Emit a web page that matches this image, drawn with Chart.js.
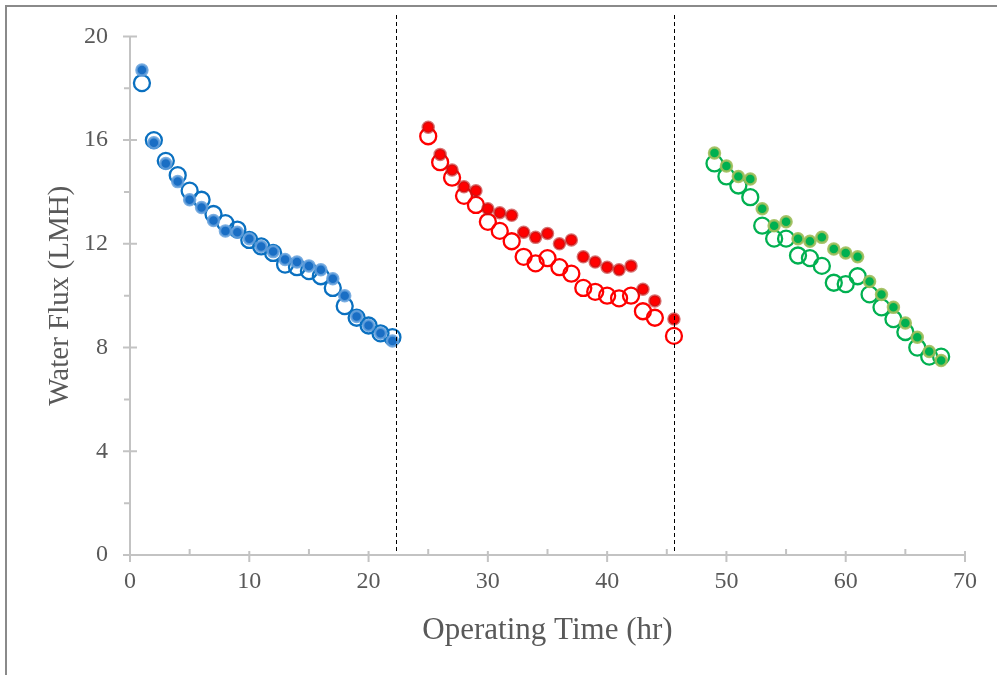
<!DOCTYPE html>
<html>
<head>
<meta charset="utf-8">
<script src="https://cdn.jsdelivr.net/npm/chart.js@4.4.1/dist/chart.umd.min.js"></script>
<style>
  html, body { margin: 0; padding: 0; background: #fff; }
  canvas { display: block; }
</style>
</head>
<body>
<canvas id="flux-chart" width="997" height="675"></canvas>
<script>
// cycle 1 (blue)
const blueTime = [1, 2, 3, 4, 5, 6, 7, 8, 9, 10, 11, 12, 13, 14, 15, 16, 17, 18, 19, 20, 21, 22];
const blueFilled = [18.7, 15.9, 15.1, 14.4, 13.7, 13.4, 12.9, 12.5, 12.45, 12.2, 11.9, 11.7, 11.4, 11.3, 11.15, 11.0, 10.65, 10.0, 9.2, 8.85, 8.55, 8.25];
const blueOpen = [18.2, 16.0, 15.2, 14.65, 14.05, 13.7, 13.15, 12.8, 12.55, 12.15, 11.9, 11.65, 11.2, 11.1, 10.95, 10.75, 10.3, 9.6, 9.15, 8.85, 8.55, 8.4];

// cycle 2 (red)
const redTime = [25, 26, 27, 28, 29, 30, 31, 32, 33, 34, 35, 36, 37, 38, 39, 40, 41, 42, 43, 44, 45.6];
const redFilled = [16.5, 15.45, 14.85, 14.2, 14.05, 13.35, 13.2, 13.1, 12.45, 12.25, 12.4, 12.0, 12.15, 11.5, 11.3, 11.1, 11.0, 11.15, 10.25, 9.8, 9.1];
const redOpen = [16.15, 15.15, 14.55, 13.85, 13.5, 12.85, 12.5, 12.1, 11.5, 11.25, 11.45, 11.1, 10.85, 10.3, 10.15, 10.0, 9.9, 10.0, 9.4, 9.15, 8.45];

// cycle 3 (green)
const greenTime = [49, 50, 51, 52, 53, 54, 55, 56, 57, 58, 59, 60, 61, 62, 63, 64, 65, 66, 67, 68];
const greenFilled = [15.5, 15.0, 14.6, 14.5, 13.35, 12.7, 12.85, 12.2, 12.1, 12.25, 11.8, 11.65, 11.5, 10.55, 10.05, 9.55, 8.95, 8.4, 7.85, 7.5];
const greenOpen = [15.1, 14.6, 14.25, 13.8, 12.7, 12.2, 12.2, 11.55, 11.45, 11.15, 10.5, 10.45, 10.75, 10.05, 9.55, 9.1, 8.6, 8.0, 7.65, 7.65];

// cycle boundaries (hr)
const dividerTimes = [22.3, 45.6];

const xTicks = [0, 10, 20, 30, 40, 50, 60, 70];
const xMinorTicks = [5, 15, 25, 35, 45, 55, 65];
const yTicks = [0, 4, 8, 12, 16, 20];
const yMinorTicks = [2, 6, 10, 14, 18];

function toPoints(xs, ys) {
  return xs.map(function (x, i) { return { x: x, y: ys[i] }; });
}

function filledSet(xs, ys, fill, edge) {
  return {
    data: toPoints(xs, ys),
    backgroundColor: fill,
    borderColor: edge,
    borderWidth: 2.5,
    pointRadius: 5.5,
    pointHoverRadius: 5.5,
    order: 0
  };
}

function openSet(xs, ys, color) {
  return {
    data: toPoints(xs, ys),
    backgroundColor: "rgba(0,0,0,0)",
    borderColor: color,
    borderWidth: 2.3,
    pointRadius: 8,
    pointHoverRadius: 8,
    order: 1
  };
}

const axisColor = "#c3c3c3";
const textColor = "#595959";
const serif = "'Liberation Serif', 'Times New Roman', serif";

const axesPlugin = {
  id: "excelAxes",
  beforeDraw(chart) {
    const ctx = chart.ctx;
    ctx.save();
    ctx.strokeStyle = "#8a8a8a";
    ctx.lineWidth = 2;
    ctx.beginPath();
    ctx.moveTo(6, 675);
    ctx.lineTo(6, 6);
    ctx.lineTo(997, 6);
    ctx.stroke();
    ctx.restore();
  },
  beforeDatasetsDraw(chart) {
    const ctx = chart.ctx;
    const xs = chart.scales.x;
    const ys = chart.scales.y;
    const x0 = xs.getPixelForValue(0);
    const y0 = ys.getPixelForValue(0);
    ctx.save();
    ctx.strokeStyle = axisColor;
    ctx.lineWidth = 2;
    ctx.beginPath();
    ctx.moveTo(x0, ys.getPixelForValue(20));
    ctx.lineTo(x0, y0);
    ctx.lineTo(xs.getPixelForValue(70), y0);
    xTicks.forEach(function (v) {
      const px = xs.getPixelForValue(v);
      ctx.moveTo(px, y0 - 4);
      ctx.lineTo(px, y0 + 7);
    });
    xMinorTicks.forEach(function (v) {
      const px = xs.getPixelForValue(v);
      ctx.moveTo(px, y0 - 6);
      ctx.lineTo(px, y0);
    });
    yTicks.forEach(function (v) {
      const py = ys.getPixelForValue(v);
      ctx.moveTo(x0 - 7, py);
      ctx.lineTo(x0 + 7, py);
    });
    yMinorTicks.forEach(function (v) {
      const py = ys.getPixelForValue(v);
      ctx.moveTo(x0 - 6, py);
      ctx.lineTo(x0, py);
    });
    ctx.stroke();
    ctx.restore();
  },
  afterDatasetsDraw(chart) {
    const ctx = chart.ctx;
    const xs = chart.scales.x;
    ctx.save();
    ctx.strokeStyle = "#000";
    ctx.lineWidth = 1;
    ctx.setLineDash([4, 3]);
    dividerTimes.forEach(function (t) {
      const px = Math.round(xs.getPixelForValue(t)) + 0.5;
      ctx.beginPath();
      ctx.moveTo(px, 15);
      ctx.lineTo(px, 552);
      ctx.stroke();
    });
    ctx.restore();
  }
};

const ctx = document.getElementById("flux-chart").getContext("2d");
new Chart(ctx, {
  type: "scatter",
  data: {
    datasets: [
      filledSet(blueTime, blueFilled, "#1a6ec4", "rgba(100,160,220,0.85)"),
      filledSet(redTime, redFilled, "#ff0000", "rgba(190,20,20,0.6)"),
      filledSet(greenTime, greenFilled, "#00b050", "rgba(160,190,90,0.9)"),
      openSet(blueTime, blueOpen, "#0a70c0"),
      openSet(redTime, redOpen, "#ff0000"),
      openSet(greenTime, greenOpen, "#00b050")
    ]
  },
  options: {
    responsive: false,
    animation: false,
    devicePixelRatio: 1,
    layout: { padding: { top: 35, right: 32, left: 0, bottom: 0 } },
    plugins: {
      legend: { display: false },
      tooltip: { enabled: false }
    },
    elements: { point: { pointStyle: "circle" } },
    datasets: { scatter: { clip: false } },
    scales: {
      x: {
        type: "linear",
        min: 0,
        max: 70,
        afterFit(scale) { scale.height = 120; },
        afterBuildTicks(scale) { scale.ticks = xTicks.map(function (v) { return { value: v }; }); },
        grid: { display: false, drawTicks: false },
        border: { display: false },
        ticks: {
          padding: 12,
          color: textColor,
          font: { family: serif, size: 24 }
        },
        title: {
          display: true,
          text: "Operating Time (hr)",
          color: textColor,
          padding: { top: 0, bottom: 26 },
          font: { family: serif, size: 31 }
        }
      },
      y: {
        type: "linear",
        min: 0,
        max: 20,
        afterFit(scale) { scale.width = 130; },
        afterBuildTicks(scale) { scale.ticks = yTicks.map(function (v) { return { value: v }; }); },
        grid: { display: false, drawTicks: false },
        border: { display: false },
        ticks: {
          padding: 22,
          color: textColor,
          font: { family: serif, size: 24 }
        },
        title: {
          display: true,
          text: "Water Flux (LMH)",
          color: textColor,
          padding: { top: 43, bottom: 0 },
          font: { family: serif, size: 29 }
        }
      }
    }
  },
  plugins: [axesPlugin]
});
</script>
</body>
</html>
